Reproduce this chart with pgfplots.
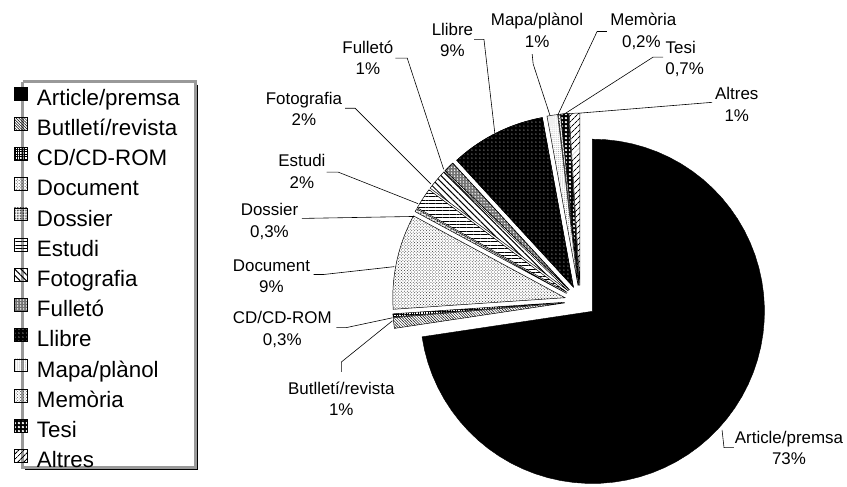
\documentclass[border=0pt]{standalone}
\usepackage{pgfplots}
\pgfplotsset{compat=1.18}
\usepackage{pgfplotstable}
\usetikzlibrary{patterns,patterns.meta}
\usepackage{fontspec}
\setmainfont{Liberation Sans}

\pgfplotstableread{
label pct
Article 73
Butlleti 1
CD 0.3
Document 9
Dossier 0.3
Estudi 2
Fotografia 2
Fulleto 1
Llibre 9
Mapa 1
Memoria 0.2
Tesi 0.7
Altres 1
}\piedata

\pgfplotsset{
 s0/.style={draw=black, fill=black},
 s1/.style={draw=black, line width=0.5pt, pattern={Lines[angle=-45,distance=2pt,line width=0.5pt]}},
 s2/.style={draw=black, line width=0.5pt, pattern={Hatch[angle=0,distance=2.5pt,line width=0.5pt]}},
 s3/.style={draw=black, line width=0.5pt, pattern=crosshatch dots, pattern color=black!80},
 s4/.style={draw=black, line width=0.5pt, pattern={Dots[distance=1.6pt,radius=0.45pt]}},
 s5/.style={draw=black, line width=0.5pt, pattern={Lines[angle=0,distance=3.5pt,line width=0.6pt]}},
 s6/.style={draw=black, line width=0.5pt, pattern={Lines[angle=-45,distance=4.5pt,line width=1pt]}},
 s7/.style={draw=black, line width=0.5pt, preaction={fill=black!55}, pattern={Dots[distance=3pt,radius=0.8pt]}, pattern color=white},
 s8/.style={draw=black, line width=0.5pt, preaction={fill=black}, pattern={Dots[distance=4pt,radius=0.55pt]}, pattern color=white},
 s9/.style={draw=black, line width=0.5pt, pattern={Dots[distance=2pt,radius=0.35pt]}, pattern color=black!70},
 s10/.style={draw=black, line width=0.5pt, pattern=crosshatch dots, pattern color=black!70},
 s11/.style={draw=black, line width=0.5pt, preaction={fill=black}, pattern={Dots[distance=4pt,radius=1.3pt]}, pattern color=white},
 s12/.style={draw=black, line width=0.5pt, pattern={Lines[angle=45,distance=4pt,line width=1pt]}},
}
\tikzset{lbl/.style={font=\fontsize{17.2}{20}\selectfont, anchor=base, inner sep=0pt}}

\begin{document}
% cumulative angles of the slices (clockwise from 12 o'clock)
\pgfplotstablegetrowsof{\piedata}\pgfmathtruncatemacro\nrows{\pgfplotsretval-1}
\gdef\pieTotal{0}
\foreach \i in {0,...,\nrows}{%
  \pgfplotstablegetelem{\i}{pct}\of\piedata
  \pgfmathsetmacro\tmp{\pieTotal+\pgfplotsretval}%
  \global\let\pieTotal\tmp
}
\gdef\pieCum{0}
\foreach \i in {0,...,\nrows}{%
  \pgfplotstablegetelem{\i}{pct}\of\piedata
  \pgfmathsetmacro\aS{90-(\pieCum/\pieTotal)*360}%
  \pgfmathsetmacro\newcum{\pieCum+\pgfplotsretval}%
  \global\let\pieCum\newcum
  \pgfmathsetmacro\aE{90-(\pieCum/\pieTotal)*360}%
  \pgfmathsetmacro\aM{(\aS+\aE)/2}%
  \pgfmathsetmacro\ccx{576+16*cos(\aM)}%
  \pgfmathsetmacro\ccy{306-16*sin(\aM)}%
  \expandafter\xdef\csname pieS\i\endcsname{\aS}%
  \expandafter\xdef\csname pieE\i\endcsname{\aE}%
  \expandafter\xdef\csname pieX\i\endcsname{\ccx}%
  \expandafter\xdef\csname pieY\i\endcsname{\ccy}%
}
\begin{tikzpicture}
\begin{axis}[
  at={(0,0)}, anchor=north west,
  x=1pt, y=1pt, y dir=reverse,
  xmin=0, xmax=847, ymin=0, ymax=494,
  hide axis, clip=false,
  legend image code/.code={\draw[#1, line width=0.5pt] (0pt,-1.5pt) rectangle (13pt,11.5pt);},
  legend style={at={(axis cs:-4,83)}, anchor=north west,
    draw=none, fill=none,
    font=\fontsize{22.7}{24}\selectfont,
    inner xsep=4pt, inner ysep=5pt,
    row sep=9.95pt, column sep=10pt,
    nodes={inner sep=0pt, text height=16pt, text depth=2pt}},
  legend cell align=left,
  legend entries={Article/premsa, Butlletí/revista, CD/CD-ROM, Document, Dossier, Estudi, Fotografia, Fulletó, Llibre, Mapa/plànol, Memòria, Tesi, Altres},
]
\pgfplotsinvokeforeach{0,...,12}{
  \addplot[s#1, domain=\csname pieE#1\endcsname:\csname pieS#1\endcsname, samples=60, variable=\t]
    ({\csname pieX#1\endcsname+175*cos(\t)}, {\csname pieY#1\endcsname-175*sin(\t)})
    -- (axis cs:\csname pieX#1\endcsname,\csname pieY#1\endcsname) -- cycle;
}
% legend frame with shadow
\addplot[forget plot, black, line width=0.8pt] coordinates {(187,86) (187,477) (12,477)};
\addplot[forget plot, black!40, line width=2.6pt] coordinates {(9,83) (185,83) (185,475) (9,475) (9,83)};
% leader lines
\addplot[forget plot, black, line width=0.6pt] coordinates {(732,455) (722,455) (720,437)};
\addplot[forget plot, black, line width=0.6pt] coordinates {(333,378) (333,368) (385,326)};
\addplot[forget plot, black, line width=0.6pt] coordinates {(328,333) (338,333) (385,323)};
\addplot[forget plot, black, line width=0.6pt] coordinates {(305,279) (315,279) (387,271)};
\addplot[forget plot, black, line width=0.6pt] coordinates {(293,222) (407,220)};
\addplot[forget plot, black, line width=0.6pt] coordinates {(318,175) (330,175) (411,207)};
\addplot[forget plot, black, line width=0.6pt] coordinates {(337,110) (347,110) (424,187)};
\addplot[forget plot, black, line width=0.6pt] coordinates {(388,59) (400,59) (437,172)};
\addplot[forget plot, black, line width=0.6pt] coordinates {(468,40) (478,40) (489,135)};
\addplot[forget plot, black, line width=0.6pt] coordinates {(527,55) (528,65) (545,117)};
\addplot[forget plot, black, line width=0.6pt] coordinates {(603,32) (593,32) (553,117)};
\addplot[forget plot, black, line width=0.6pt] coordinates {(660,58) (650,58) (558,117)};
\addplot[forget plot, black, line width=0.6pt] coordinates {(710,104) (575,115)};
% labels
\node[lbl] at (axis cs:788,451) {Article/premsa};
\node[lbl] at (axis cs:788,472) {73\%};
\node[lbl] at (axis cs:333,401) {Butlletí/revista};
\node[lbl] at (axis cs:333,422) {1\%};
\node[lbl] at (axis cs:273,329) {CD/CD-ROM};
\node[lbl] at (axis cs:273,351) {0,3\%};
\node[lbl] at (axis cs:262,276) {Document};
\node[lbl] at (axis cs:262,297) {9\%};
\node[lbl] at (axis cs:260,219) {Dossier};
\node[lbl] at (axis cs:260,241) {0,3\%};
\node[lbl] at (axis cs:293,169) {Estudi};
\node[lbl] at (axis cs:293,192) {2\%};
\node[lbl] at (axis cs:295,106) {Fotografia};
\node[lbl] at (axis cs:295,128) {2\%};
\node[lbl] at (axis cs:360,54) {Fulletó};
\node[lbl] at (axis cs:360,76) {1\%};
\node[lbl] at (axis cs:446,36) {Llibre};
\node[lbl] at (axis cs:446,57) {9\%};
\node[lbl] at (axis cs:532,26) {Mapa/plànol};
\node[lbl] at (axis cs:532,48) {1\%};
\node[lbl] at (axis cs:640,26) {Memòria};
\node[lbl] at (axis cs:638,48) {0,2\%};
\node[lbl] at (axis cs:678,54) {Tesi};
\node[lbl] at (axis cs:682,76) {0,7\%};
\node[lbl] at (axis cs:735,101) {Altres};
\node[lbl] at (axis cs:735,123) {1\%};
\end{axis}
\pgfresetboundingbox
\path (current axis.south west) rectangle (current axis.north east);
\end{tikzpicture}
\end{document}
